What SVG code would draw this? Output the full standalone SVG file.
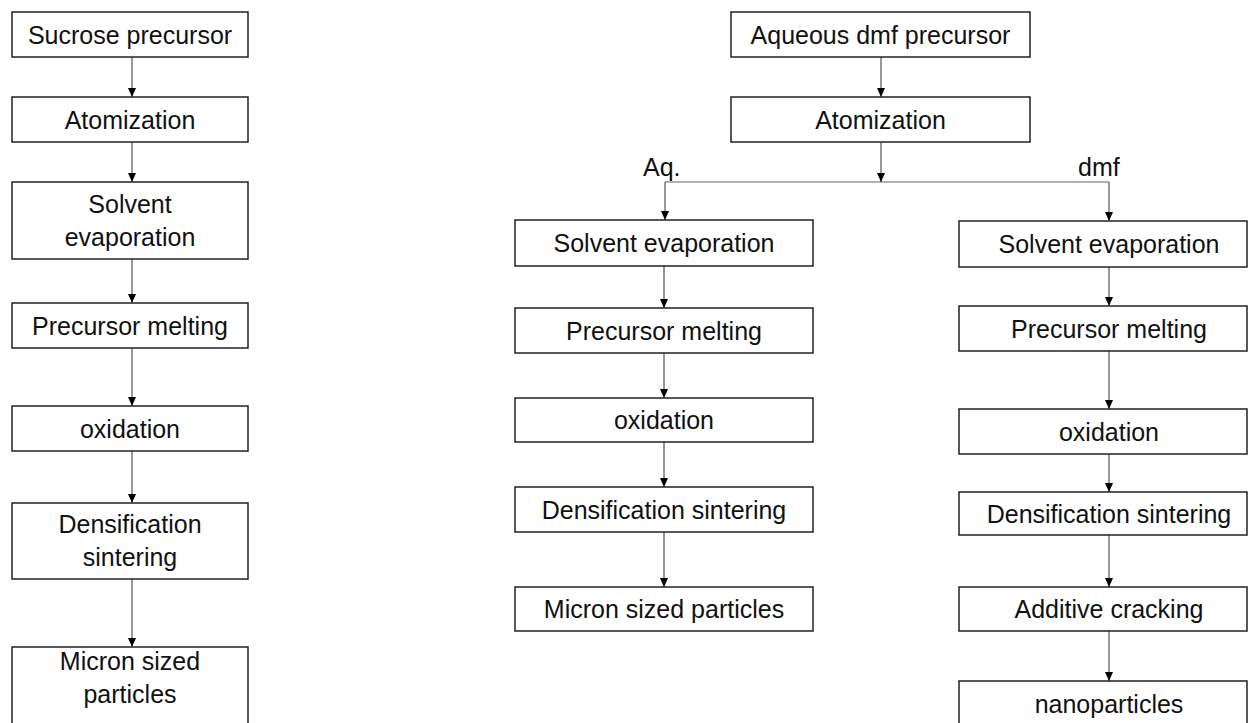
<svg xmlns="http://www.w3.org/2000/svg" width="1248" height="723" viewBox="0 0 1248 723">
<defs>
<marker id="ah" markerUnits="userSpaceOnUse" markerWidth="9" markerHeight="9" refX="9" refY="4" orient="auto">
<path d="M0,0 L9,4 L0,8 z" fill="#000"/>
</marker>
<style>
.box{fill:#fff;stroke:#222;stroke-width:1.5}
.t{font-family:"Liberation Sans",Arial,sans-serif;font-size:25px;fill:#111;text-anchor:middle}
.lbl{font-family:"Liberation Sans",Arial,sans-serif;font-size:25px;fill:#111}
.c{stroke:#333;stroke-width:1;fill:none;marker-end:url(#ah)}
.br{stroke:#999;stroke-width:1.5;fill:none}
</style>
</defs>
<rect width="1248" height="723" fill="#fff"/>
<g id="connectors">
<line class="c" x1="132" y1="57" x2="132" y2="97"/>
<line class="c" x1="132" y1="142" x2="132" y2="182"/>
<line class="c" x1="132" y1="259" x2="132" y2="303"/>
<line class="c" x1="132" y1="348" x2="132" y2="406"/>
<line class="c" x1="132" y1="451" x2="132" y2="503"/>
<line class="c" x1="132" y1="579" x2="132" y2="647"/>
<line class="c" x1="881" y1="57" x2="881" y2="97"/>
<polyline class="br" points="665,182 1109,182"/>
<line class="c" x1="881" y1="142" x2="881" y2="182"/>
<line class="c" x1="665" y1="182" x2="665" y2="220"/>
<line class="c" x1="1109" y1="182" x2="1109" y2="221"/>
<line class="c" x1="664" y1="266" x2="664" y2="308"/>
<line class="c" x1="664" y1="353" x2="664" y2="398"/>
<line class="c" x1="664" y1="442" x2="664" y2="487"/>
<line class="c" x1="664" y1="532" x2="664" y2="587"/>
<line class="c" x1="1109" y1="267" x2="1109" y2="306"/>
<line class="c" x1="1109" y1="351" x2="1109" y2="409"/>
<line class="c" x1="1109" y1="454" x2="1109" y2="492"/>
<line class="c" x1="1109" y1="535" x2="1109" y2="587"/>
<line class="c" x1="1109" y1="631" x2="1109" y2="681"/>
<text class="lbl" x="643" y="176">Aq.</text>
<text class="lbl" x="1078" y="176">dmf</text>
</g>
<g id="l1"><rect class="box" x="12" y="12" width="236" height="45"/><text class="t" x="130" y="44">Sucrose precursor</text></g>
<g id="l2"><rect class="box" x="12" y="97" width="236" height="45"/><text class="t" x="130" y="129">Atomization</text></g>
<g id="l3"><rect class="box" x="12" y="182" width="236" height="77"/><text class="t" x="130" y="213">Solvent</text><text class="t" x="130" y="246">evaporation</text></g>
<g id="l4"><rect class="box" x="12" y="303" width="236" height="45"/><text class="t" x="130" y="335">Precursor melting</text></g>
<g id="l5"><rect class="box" x="12" y="406" width="236" height="45"/><text class="t" x="130" y="438">oxidation</text></g>
<g id="l6"><rect class="box" x="12" y="503" width="236" height="76"/><text class="t" x="130" y="533">Densification</text><text class="t" x="130" y="566">sintering</text></g>
<g id="l7"><rect class="box" x="12" y="647" width="236" height="82"/><text class="t" x="130" y="670">Micron sized</text><text class="t" x="130" y="703">particles</text></g>
<g id="m0"><rect class="box" x="731" y="12" width="299" height="45"/><text class="t" x="880.5" y="44">Aqueous dmf precursor</text></g>
<g id="m1"><rect class="box" x="731" y="97" width="299" height="45"/><text class="t" x="880.5" y="129">Atomization</text></g>
<g id="a1"><rect class="box" x="515" y="220" width="298" height="46"/><text class="t" x="664" y="252">Solvent evaporation</text></g>
<g id="a2"><rect class="box" x="515" y="308" width="298" height="45"/><text class="t" x="664" y="340">Precursor melting</text></g>
<g id="a3"><rect class="box" x="515" y="398" width="298" height="44"/><text class="t" x="664" y="429">oxidation</text></g>
<g id="a4"><rect class="box" x="515" y="487" width="298" height="45"/><text class="t" x="664" y="519">Densification sintering</text></g>
<g id="a5"><rect class="box" x="515" y="587" width="298" height="44"/><text class="t" x="664" y="618">Micron sized particles</text></g>
<g id="d1"><rect class="box" x="959" y="221" width="288" height="46"/><text class="t" x="1109" y="253">Solvent evaporation</text></g>
<g id="d2"><rect class="box" x="959" y="306" width="288" height="45"/><text class="t" x="1109" y="338">Precursor melting</text></g>
<g id="d3"><rect class="box" x="959" y="409" width="288" height="45"/><text class="t" x="1109" y="441">oxidation</text></g>
<g id="d4"><rect class="box" x="959" y="492" width="288" height="43"/><text class="t" x="1109" y="523">Densification sintering</text></g>
<g id="d5"><rect class="box" x="959" y="587" width="288" height="44"/><text class="t" x="1109" y="618">Additive cracking</text></g>
<g id="d6"><rect class="box" x="959" y="681" width="288" height="50"/><text class="t" x="1109" y="713">nanoparticles</text></g>
</svg>
